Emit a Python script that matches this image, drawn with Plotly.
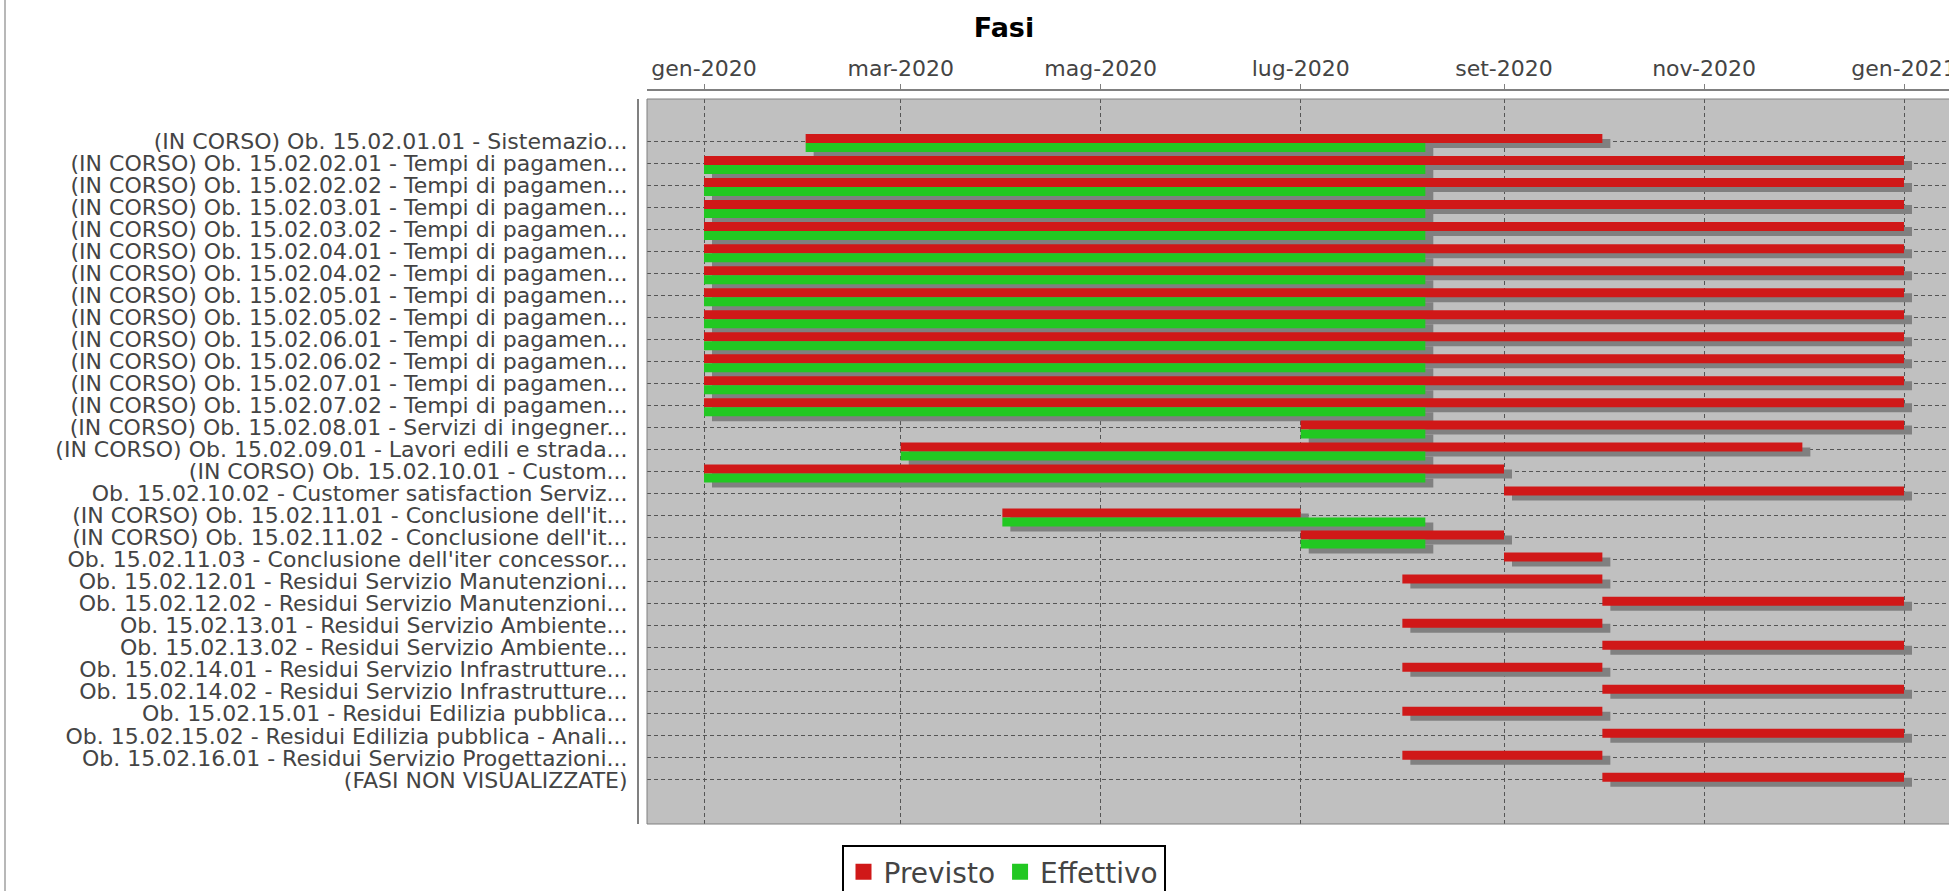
import pandas as pd
import plotly.graph_objects as go

# ---------------- data ----------------
labels = [
    "(IN CORSO) Ob. 15.02.01.01 - Sistemazio...",
    "(IN CORSO) Ob. 15.02.02.01 - Tempi di pagamen...",
    "(IN CORSO) Ob. 15.02.02.02 - Tempi di pagamen...",
    "(IN CORSO) Ob. 15.02.03.01 - Tempi di pagamen...",
    "(IN CORSO) Ob. 15.02.03.02 - Tempi di pagamen...",
    "(IN CORSO) Ob. 15.02.04.01 - Tempi di pagamen...",
    "(IN CORSO) Ob. 15.02.04.02 - Tempi di pagamen...",
    "(IN CORSO) Ob. 15.02.05.01 - Tempi di pagamen...",
    "(IN CORSO) Ob. 15.02.05.02 - Tempi di pagamen...",
    "(IN CORSO) Ob. 15.02.06.01 - Tempi di pagamen...",
    "(IN CORSO) Ob. 15.02.06.02 - Tempi di pagamen...",
    "(IN CORSO) Ob. 15.02.07.01 - Tempi di pagamen...",
    "(IN CORSO) Ob. 15.02.07.02 - Tempi di pagamen...",
    "(IN CORSO) Ob. 15.02.08.01 - Servizi di ingegner...",
    "(IN CORSO) Ob. 15.02.09.01 - Lavori edili e strada...",
    "(IN CORSO) Ob. 15.02.10.01 - Custom...",
    "Ob. 15.02.10.02 - Customer satisfaction Serviz...",
    "(IN CORSO) Ob. 15.02.11.01 - Conclusione dell'it...",
    "(IN CORSO) Ob. 15.02.11.02 - Conclusione dell'it...",
    "Ob. 15.02.11.03 - Conclusione dell'iter concessor...",
    "Ob. 15.02.12.01 - Residui Servizio Manutenzioni...",
    "Ob. 15.02.12.02 - Residui Servizio Manutenzioni...",
    "Ob. 15.02.13.01 - Residui Servizio Ambiente...",
    "Ob. 15.02.13.02 - Residui Servizio Ambiente...",
    "Ob. 15.02.14.01 - Residui Servizio Infrastrutture...",
    "Ob. 15.02.14.02 - Residui Servizio Infrastrutture...",
    "Ob. 15.02.15.01 - Residui Edilizia pubblica...",
    "Ob. 15.02.15.02 - Residui Edilizia pubblica - Anali...",
    "Ob. 15.02.16.01 - Residui Servizio Progettazioni...",
    "(FASI NON VISUALIZZATE)",
]

previsto_start = [
    "2020-02-01",
    "2020-01-01", "2020-01-01", "2020-01-01", "2020-01-01", "2020-01-01", "2020-01-01",
    "2020-01-01", "2020-01-01", "2020-01-01", "2020-01-01", "2020-01-01", "2020-01-01",
    "2020-07-01", "2020-03-01", "2020-01-01", "2020-09-01", "2020-04-01", "2020-07-01",
    "2020-09-01", "2020-08-01", "2020-10-01", "2020-08-01", "2020-10-01", "2020-08-01",
    "2020-10-01", "2020-08-01", "2020-10-01", "2020-08-01", "2020-10-01",
]
previsto_end = [
    "2020-10-01",
    "2021-01-01", "2021-01-01", "2021-01-01", "2021-01-01", "2021-01-01", "2021-01-01",
    "2021-01-01", "2021-01-01", "2021-01-01", "2021-01-01", "2021-01-01", "2021-01-01",
    "2021-01-01", "2020-12-01", "2020-09-01", "2021-01-01", "2020-07-01", "2020-09-01",
    "2020-10-01", "2020-10-01", "2021-01-01", "2020-10-01", "2021-01-01", "2020-10-01",
    "2021-01-01", "2020-10-01", "2021-01-01", "2020-10-01", "2021-01-01",
]
effettivo_start = [
    "2020-02-01",
    "2020-01-01", "2020-01-01", "2020-01-01", "2020-01-01", "2020-01-01", "2020-01-01",
    "2020-01-01", "2020-01-01", "2020-01-01", "2020-01-01", "2020-01-01", "2020-01-01",
    "2020-07-01", "2020-03-01", "2020-01-01", None, "2020-04-01", "2020-07-01",
    None, None, None, None, None, None, None, None, None, None, None,
]
effettivo_end = [
    "2020-08-08",
    "2020-08-08", "2020-08-08", "2020-08-08", "2020-08-08", "2020-08-08", "2020-08-08",
    "2020-08-08", "2020-08-08", "2020-08-08", "2020-08-08", "2020-08-08", "2020-08-08",
    "2020-08-08", "2020-08-08", "2020-08-08", None, "2020-08-08", "2020-08-08",
    None, None, None, None, None, None, None, None, None, None, None,
]

tick_dates = ["2020-01-01", "2020-03-01", "2020-05-01", "2020-07-01",
              "2020-09-01", "2020-11-01", "2021-01-01"]
tick_text = ["gen-2020", "mar-2020", "mag-2020", "lug-2020",
             "set-2020", "nov-2020", "gen-2021"]

series_names = ["Previsto", "Effettivo"]
series_colors = ["#d01818", "#22c822"]

# ---------------- layout constants ----------------
W, H = 1949, 891
ML, MT, MB, MR = 638, 90, 66, 0
PW = W - ML - MR
PH = H - MT - MB
PX_PER_DAY = 1200 / 366.0
ROW_PX = 22.03

def ms(a, b):
    return (pd.Timestamp(b) - pd.Timestamp(a)).total_seconds() * 1000.0

shadow_dx = pd.Timedelta(days=8 / PX_PER_DAY)
shadow_dy = 5 / ROW_PX
bar_w = 9 / ROW_PX
red_off = -7 / ROW_PX
green_off = 2 / ROW_PX

rows = list(range(len(labels)))

fig = go.Figure()

def collect(starts, ends):
    ys, xs, bases = [], [], []
    for i, (s, e) in enumerate(zip(starts, ends)):
        if s is None:
            continue
        ys.append(i)
        xs.append(ms(s, e))
        bases.append(pd.Timestamp(s))
    return ys, xs, bases

series = [collect(previsto_start, previsto_end), collect(effettivo_start, effettivo_end)]
offsets = [red_off, green_off]

# shadows first
for (ys, xs, bases), off in zip(series, offsets):
    fig.add_trace(go.Bar(
        y=ys, x=xs, base=[b + shadow_dx for b in bases], orientation="h", width=bar_w,
        offset=off + shadow_dy, marker=dict(color="#808080", line=dict(width=0)),
        showlegend=False, hoverinfo="skip"))

for (ys, xs, bases), color, off, name in zip(series, series_colors, offsets, series_names):
    fig.add_trace(go.Bar(
        y=ys, x=xs, base=bases, orientation="h", width=bar_w, offset=off,
        marker=dict(color=color, line=dict(width=0)), name=name, showlegend=False))

# legend entries
for name, color in zip(series_names, series_colors):
    fig.add_trace(go.Scatter(x=[None], y=[None], mode="markers", name=name,
                             marker=dict(symbol="square", size=18, color=color)))

x0 = pd.Timestamp("2020-01-01") + pd.Timedelta(days=(647 - 704) / PX_PER_DAY)
x1 = pd.Timestamp("2020-01-01") + pd.Timedelta(days=(W - 704) / PX_PER_DAY)

dom_x0 = 9 / PW
dom_y0 = 1 / PH
dom_y1 = 1 - 9 / PH

font_family = "DejaVu Sans"

fig.update_layout(
    width=W, height=H, autosize=False,
    margin=dict(l=ML, r=MR, t=MT, b=MB, pad=0, autoexpand=False),
    paper_bgcolor="white", plot_bgcolor="#c0c0c0",
    barmode="overlay",
    font=dict(family=font_family, color="#444444"),
    title=dict(text="<b>Fasi</b>", x=(1004 - ML) / PW, xref="paper", xanchor="center",
               y=1 - 28 / H, yref="container", yanchor="middle",
               font=dict(family=font_family, size=27, color="black")),
    xaxis=dict(
        type="date", range=[x0, x1], domain=[dom_x0, 1], automargin=False,
        side="top", anchor="free", position=1,
        tickvals=tick_dates, ticktext=tick_text,
        tickfont=dict(family=font_family, size=22, color="#444444"),
        ticks="outside", ticklen=5, tickwidth=1, tickcolor="#808080",
        showline=True, linecolor="#808080", linewidth=2,
        showgrid=True, gridcolor="#555555", gridwidth=1, griddash="4px,3px",
        zeroline=False, ticklabelstandoff=-1, ticklabeloverflow="allow",
    ),
    yaxis=dict(
        range=[(824 - 141) / ROW_PX, (99 - 141) / ROW_PX], domain=[dom_y0, dom_y1],
        anchor="free", position=0, automargin=False,
        tickvals=rows, ticktext=labels,
        tickfont=dict(family=font_family, size=22, color="#444444"),
        ticks="", showline=True, linecolor="#808080", linewidth=2,
        showgrid=True, gridcolor="#555555", gridwidth=1, griddash="4px,3px",
        zeroline=False, ticklabelstandoff=5,
    ),
    legend=dict(
        orientation="h", x=(1003.5 - ML) / PW, xanchor="center",
        y=(825 - 845) / PH, yanchor="top",
        bgcolor="white", bordercolor="black", borderwidth=2,
        font=dict(family=font_family, size=28, color="#444444"),
        itemsizing="trace",
    ),
    shapes=[
        dict(type="rect", xref="paper", yref="paper", x0=dom_x0, x1=1.01,
             y0=dom_y0, y1=dom_y1, line=dict(color="#808080", width=1),
             fillcolor="rgba(0,0,0,0)", layer="above"),
        dict(type="line", xref="paper", yref="paper",
             x0=(5 - ML) / PW, x1=(5 - ML) / PW, y0=(H - MB) / PH + 0.1, y1=-MB / PH - 0.1,
             line=dict(color="#b8b8b8", width=2)),
    ],
)

fig.write_html("out.html", config={"displayModeBar": False},
               post_script="document.body.style.margin='0';document.body.style.overflow='hidden';")
